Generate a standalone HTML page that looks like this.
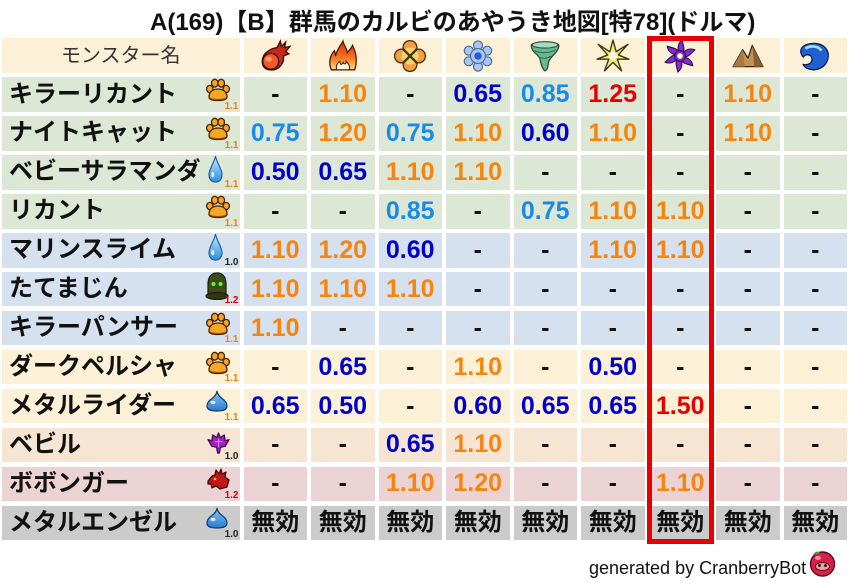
<!DOCTYPE html>
<html><head><meta charset="utf-8">
<style>
html,body{margin:0;padding:0}
body{width:849px;height:583px;background:#fff;position:relative;overflow:hidden;font-family:"Liberation Sans","Noto Sans CJK JP",sans-serif}
#title{position:absolute;left:150px;top:11px;font-size:24px;line-height:24px;font-weight:bold;color:#111;white-space:nowrap}
#t{position:absolute;left:2px;top:38.35px;display:grid;grid-template-columns:237.5px repeat(9,63.5px);grid-template-rows:repeat(13,34.5px);column-gap:4px;row-gap:4.45px}
#t>div{position:relative;display:flex;align-items:center;justify-content:center;line-height:1}
.v{font-weight:bold;font-size:25px;color:#111}
.w{font-weight:bold;font-size:24px;color:#111}
.n{justify-content:flex-start!important;padding-left:7px;font-weight:bold;font-size:24px;color:#111;white-space:nowrap}
.hn{font-size:20px;color:#333}
.h{background:#fcf0d6}.g{background:#dde7d5}.b{background:#d5e1ef}.y{background:#fcf0d6}.p{background:#f6e5d2}.k{background:#ecd3d3}.s{background:#cbcbcb}
.o{color:#f5850f}.lb{color:#1a8ae8}.db{color:#0000cc}.r{color:#e80000}
.ic{position:absolute}
.l{position:absolute;right:1px;bottom:0px;font-size:10px;font-weight:bold;line-height:10px}
.lo{color:#f08010}.lk{color:#222}.lr{color:#e00000}
.hi{width:34px;height:34px}
#box{position:absolute;left:646.5px;top:35.5px;width:67.5px;height:508px;border:5px solid #e80000;box-sizing:border-box}
#foot{position:absolute;left:589px;top:559px;font-size:18px;line-height:18px;color:#111;white-space:nowrap}
</style></head><body>
<svg width="0" height="0" style="position:absolute">
<defs>
<linearGradient id="gf" x1="0" y1="0" x2="0" y2="1"><stop offset="0" stop-color="#e02810"/><stop offset="0.6" stop-color="#f47a20"/><stop offset="1" stop-color="#fde080"/></linearGradient>
<linearGradient id="gd" x1="0" y1="0" x2="0" y2="1"><stop offset="0" stop-color="#c8ecff"/><stop offset="1" stop-color="#2e8ee0"/></linearGradient>
<linearGradient id="gs" x1="0" y1="0" x2="0" y2="1"><stop offset="0" stop-color="#8cc8f4"/><stop offset="1" stop-color="#2a7ad0"/></linearGradient>
<symbol id="h1" viewBox="0 0 32 32">
<path d="M4 21 C4 13 12 9 18 8 L21 2 L22 7 L26 3 L25 8 L30 7 L26 12 L29 14 L24 16 C25 24 18 30 12 29 C6 29 4 25 4 21Z" fill="#c8281c" stroke="#3a0a0a" stroke-width="1.3"/>
<circle cx="12" cy="21" r="7.5" fill="#f05a28" stroke="#3a0a0a" stroke-width="1.2"/>
<ellipse cx="10" cy="19" rx="3" ry="2.5" fill="#ff9a60"/>
</symbol>
<symbol id="h2" viewBox="0 0 32 32">
<path d="M5 29 C2 22 4 15 8 11 L9 16 C10 10 14 6 16 2 C17 7 20 9 20 13 C22 10 24 9 25 6 C28 12 30 20 27 29Z" fill="url(#gf)" stroke="#4a1a0a" stroke-width="1.2"/>
<path d="M10 29 C9 25 11 22 13 21 C13 24 15 25 16 22 C17 24 19 24 19 21 C21 23 23 26 22 29Z" fill="#fff8e0" stroke="#4a1a0a" stroke-width="1"/>
</symbol>
<symbol id="h3" viewBox="0 0 32 32">
<g fill="#f5a040" stroke="#4a2a0a" stroke-width="1.2">
<circle cx="16" cy="8" r="6.5"/><circle cx="16" cy="24" r="6.5"/><circle cx="8" cy="16" r="6.5"/><circle cx="24" cy="16" r="6.5"/>
</g>
<circle cx="16" cy="16" r="8" fill="#fbd070"/>
<path d="M9 9 L23 23 M23 9 L9 23" stroke="#3a3a0a" stroke-width="2.2"/>
</symbol>
<symbol id="h4" viewBox="0 0 32 32">
<g fill="#a8c8f0" stroke="#4a6a9a" stroke-width="1.1">
<circle cx="16" cy="6" r="4.2"/><circle cx="24.7" cy="11" r="4.2"/><circle cx="24.7" cy="21" r="4.2"/><circle cx="16" cy="26" r="4.2"/><circle cx="7.3" cy="21" r="4.2"/><circle cx="7.3" cy="11" r="4.2"/>
<circle cx="16" cy="16" r="7"/>
</g>
<circle cx="16" cy="16" r="3.5" fill="#2a5ad8"/>
</symbol>
<symbol id="h5" viewBox="0 0 32 32">
<path d="M3 6 C3 2 29 2 29 6 C29 12 22 16 20 20 C18 24 20 28 16 30 C13 28 12 22 11 18 C9 14 3 12 3 6Z" fill="#6ab890" stroke="#2a4a3a" stroke-width="1.2"/>
<ellipse cx="16" cy="5.5" rx="12" ry="3" fill="#a8dcc0" stroke="#2a4a3a" stroke-width="1"/>
<path d="M6 11 C12 14 22 13 26 10 M10 17 C14 19 19 18 22 16" stroke="#2a6a4a" stroke-width="1" fill="none"/>
</symbol>
<symbol id="h6" viewBox="0 0 32 32">
<path d="M16 1 L19 12 L30 5 L21 15 L31 19 L20 19 L24 30 L16 22 L8 30 L12 19 L1 19 L11 15 L2 5 L13 12Z" fill="#f0ec70" stroke="#3a3a10" stroke-width="1.3" stroke-linejoin="round"/>
<circle cx="16" cy="16" r="4" fill="#fffbe0"/>
</symbol>
<symbol id="h7" viewBox="0 0 32 32">
<g fill="#8a2ad0" stroke="#2a0a4a" stroke-width="1">
<path d="M16 13 C13 9 14 4 18 1 C19 6 21 10 18.5 14Z"/>
<path d="M16 13 C13 9 14 4 18 1 C19 6 21 10 18.5 14Z" transform="rotate(60 16 16)"/>
<path d="M16 13 C13 9 14 4 18 1 C19 6 21 10 18.5 14Z" transform="rotate(120 16 16)"/>
<path d="M16 13 C13 9 14 4 18 1 C19 6 21 10 18.5 14Z" transform="rotate(180 16 16)"/>
<path d="M16 13 C13 9 14 4 18 1 C19 6 21 10 18.5 14Z" transform="rotate(240 16 16)"/>
<path d="M16 13 C13 9 14 4 18 1 C19 6 21 10 18.5 14Z" transform="rotate(300 16 16)"/>
<circle cx="16" cy="16" r="5"/>
</g>
<circle cx="16" cy="16" r="2.6" fill="#fff"/>
</symbol>
<symbol id="h8" viewBox="0 0 32 32">
<path d="M2 26 L11 10 L16 18 L20 6 L30 26Z" fill="#c09258" stroke="#3a2a10" stroke-width="1.2" stroke-linejoin="round"/>
<path d="M20 6 L30 26 L22 26Z" fill="#8a6030"/>
<path d="M11 10 L13 26 L2 26Z" fill="#a87a40"/>
</symbol>
<symbol id="h9" viewBox="0 0 32 32">
<path d="M4 8 C8 3 22 2 27 10 C31 17 27 28 15 29 C10 29 6 27 5 24 C10 25 14 22 13 18 C12 14 7 14 5 17 C2 14 2 10 4 8Z" fill="#2060d0" stroke="#0a1a4a" stroke-width="1.2"/>
<path d="M7 9 C11 6 19 6 22 11" stroke="#a0e0ff" stroke-width="2.5" fill="none"/>
</symbol>
<symbol id="paw" viewBox="0 0 26 24">
<g fill="#f5a623" stroke="#4a2200" stroke-width="1.3">
<ellipse cx="4.8" cy="11" rx="3.2" ry="3.6"/>
<ellipse cx="9.8" cy="5.2" rx="3.3" ry="3.9"/>
<ellipse cx="16.2" cy="5.2" rx="3.3" ry="3.9"/>
<ellipse cx="21.2" cy="11" rx="3.2" ry="3.6"/>
<path d="M4 19 C4 13 9 11 13 11 C17 11 22 13 22 19 C22 22 17 22.5 13 22.5 C9 22.5 4 22 4 19Z"/>
</g>
<path d="M5 19.5 C8 21.5 18 21.5 21 19.5 L21 20.5 C18 22.5 8 22.5 5 20.5Z" fill="#a04a00"/>
</symbol>
<symbol id="drop" viewBox="0 0 16 30">
<path d="M8 1 C9 8 15 15 15 21 C15 26 12 29 8 29 C4 29 1 26 1 21 C1 15 7 8 8 1Z" fill="url(#gd)" stroke="#1a5a9a" stroke-width="1.2"/>
<ellipse cx="5" cy="21" rx="1.6" ry="3" fill="#fff" opacity="0.8"/>
</symbol>
<symbol id="slime" viewBox="0 0 22 22">
<path d="M11 1 C11.5 5 14 7 16 8.5 C20 11 21 13.5 21 16 C21 20 17 21 11 21 C5 21 1 20 1 16 C1 13.5 2 11 6 8.5 C8 7 10.5 5 11 1Z" fill="url(#gs)" stroke="#0e3a6a" stroke-width="1.2"/>
<ellipse cx="7" cy="12.5" rx="2.5" ry="1.6" fill="#e0f2ff"/>
</symbol>
<symbol id="helm" viewBox="0 0 24 28">
<path d="M3 24 L3 12 C3 4 7 1 12 1 C17 1 21 4 21 12 L21 24Z" fill="#3e4a18" stroke="#1a2008" stroke-width="1.2"/>
<ellipse cx="12" cy="24" rx="11" ry="3.5" fill="#2e3810" stroke="#1a2008" stroke-width="1.2"/>
<circle cx="8.5" cy="12" r="2" fill="#50ff30"/><circle cx="15.5" cy="12" r="2" fill="#50ff30"/>
</symbol>
<symbol id="devil" viewBox="0 0 24 24">
<path d="M12 2 L14 7 L18 4 L19 10 L23 9 L19 16 L14 17 L13 23 L11 23 L10 17 L5 16 L1 9 L5 10 L6 4 L10 7Z" fill="#a020c0" stroke="#3a0040" stroke-width="1.2" stroke-linejoin="round"/>
<path d="M12 8 L12 17 M8 11 L16 11" stroke="#e080f0" stroke-width="1.2"/>
</symbol>
<symbol id="dragon" viewBox="0 0 24 24">
<path d="M2 14 L6 9 L9 8 L10 3 L13 7 L15 2 L16 7 L20 5 L19 10 L23 13 L21 20 L14 22 L10 19 L6 21 L5 17 L2 17Z" fill="#c01818" stroke="#3a0000" stroke-width="1.2" stroke-linejoin="round"/>
<circle cx="9" cy="12" r="1.3" fill="#ffd000"/>
</symbol>
</defs>
</svg>

<div id="title">A(169)【B】群馬のカルビのあやうき地図[特78](ドルマ)</div>

<div id="t">
<!-- header -->
<div class="h hn">モンスター名</div>
<div class="h"><svg class="hi" width="34" height="34"><use href="#h1" width="34" height="34"/></svg></div>
<div class="h"><svg class="hi" width="34" height="34"><use href="#h2" width="34" height="34"/></svg></div>
<div class="h"><svg class="hi" width="34" height="34"><use href="#h3" width="34" height="34"/></svg></div>
<div class="h"><svg class="hi" width="34" height="34"><use href="#h4" width="34" height="34"/></svg></div>
<div class="h"><svg class="hi" width="34" height="34"><use href="#h5" width="34" height="34"/></svg></div>
<div class="h"><svg class="hi" width="34" height="34"><use href="#h6" width="34" height="34"/></svg></div>
<div class="h"><svg class="hi" width="34" height="34"><use href="#h7" width="34" height="34"/></svg></div>
<div class="h"><svg class="hi" width="34" height="34"><use href="#h8" width="34" height="34"/></svg></div>
<div class="h"><svg class="hi" width="34" height="34"><use href="#h9" width="34" height="34"/></svg></div>

<!-- row 1 -->
<div class="n g">キラーリカント<svg class="ic" style="left:203px;top:1px" width="26" height="24"><use href="#paw"/></svg><span class="l lo">1.1</span></div>
<div class="v g">-</div><div class="v g o">1.10</div><div class="v g">-</div><div class="v g db">0.65</div><div class="v g lb">0.85</div><div class="v g r">1.25</div><div class="v g">-</div><div class="v g o">1.10</div><div class="v g">-</div>

<!-- row 2 -->
<div class="n g">ナイトキャット<svg class="ic" style="left:203px;top:1px" width="26" height="24"><use href="#paw"/></svg><span class="l lo">1.1</span></div>
<div class="v g lb">0.75</div><div class="v g o">1.20</div><div class="v g lb">0.75</div><div class="v g o">1.10</div><div class="v g db">0.60</div><div class="v g o">1.10</div><div class="v g">-</div><div class="v g o">1.10</div><div class="v g">-</div>

<!-- row 3 -->
<div class="n g">ベビーサラマンダ<svg class="ic" style="left:206px;top:0px" width="15" height="28"><use href="#drop"/></svg><span class="l lo">1.1</span></div>
<div class="v g db">0.50</div><div class="v g db">0.65</div><div class="v g o">1.10</div><div class="v g o">1.10</div><div class="v g">-</div><div class="v g">-</div><div class="v g">-</div><div class="v g">-</div><div class="v g">-</div>

<!-- row 4 -->
<div class="n g">リカント<svg class="ic" style="left:203px;top:1px" width="26" height="24"><use href="#paw"/></svg><span class="l lo">1.1</span></div>
<div class="v g">-</div><div class="v g">-</div><div class="v g lb">0.85</div><div class="v g">-</div><div class="v g lb">0.75</div><div class="v g o">1.10</div><div class="v g o">1.10</div><div class="v g">-</div><div class="v g">-</div>

<!-- row 5 -->
<div class="n b">マリンスライム<svg class="ic" style="left:206px;top:0px" width="15" height="28"><use href="#drop"/></svg><span class="l lk">1.0</span></div>
<div class="v b o">1.10</div><div class="v b o">1.20</div><div class="v b db">0.60</div><div class="v b">-</div><div class="v b">-</div><div class="v b o">1.10</div><div class="v b o">1.10</div><div class="v b">-</div><div class="v b">-</div>

<!-- row 6 -->
<div class="n b">たてまじん<svg class="ic" style="left:203px;top:0px" width="24" height="28"><use href="#helm"/></svg><span class="l lr">1.2</span></div>
<div class="v b o">1.10</div><div class="v b o">1.10</div><div class="v b o">1.10</div><div class="v b">-</div><div class="v b">-</div><div class="v b">-</div><div class="v b">-</div><div class="v b">-</div><div class="v b">-</div>

<!-- row 7 -->
<div class="n b">キラーパンサー<svg class="ic" style="left:203px;top:1px" width="26" height="24"><use href="#paw"/></svg><span class="l lo">1.1</span></div>
<div class="v b o">1.10</div><div class="v b">-</div><div class="v b">-</div><div class="v b">-</div><div class="v b">-</div><div class="v b">-</div><div class="v b">-</div><div class="v b">-</div><div class="v b">-</div>

<!-- row 8 -->
<div class="n y">ダークペルシャ<svg class="ic" style="left:203px;top:1px" width="26" height="24"><use href="#paw"/></svg><span class="l lo">1.1</span></div>
<div class="v y">-</div><div class="v y db">0.65</div><div class="v y">-</div><div class="v y o">1.10</div><div class="v y">-</div><div class="v y db">0.50</div><div class="v y">-</div><div class="v y">-</div><div class="v y">-</div>

<!-- row 9 -->
<div class="n y">メタルライダー<svg class="ic" style="left:204px;top:1px" width="22" height="22"><use href="#slime"/></svg><span class="l lo">1.1</span></div>
<div class="v y db">0.65</div><div class="v y db">0.50</div><div class="v y">-</div><div class="v y db">0.60</div><div class="v y db">0.65</div><div class="v y db">0.65</div><div class="v y r">1.50</div><div class="v y">-</div><div class="v y">-</div>

<!-- row 10 -->
<div class="n p">ベビル<svg class="ic" style="left:205px;top:3px" width="23" height="23"><use href="#devil"/></svg><span class="l lk">1.0</span></div>
<div class="v p">-</div><div class="v p">-</div><div class="v p db">0.65</div><div class="v p o">1.10</div><div class="v p">-</div><div class="v p">-</div><div class="v p">-</div><div class="v p">-</div><div class="v p">-</div>

<!-- row 11 -->
<div class="n k">ボボンガー<svg class="ic" style="left:204px;top:0px" width="24" height="24"><use href="#dragon"/></svg><span class="l lr">1.2</span></div>
<div class="v k">-</div><div class="v k">-</div><div class="v k o">1.10</div><div class="v k o">1.20</div><div class="v k">-</div><div class="v k">-</div><div class="v k o">1.10</div><div class="v k">-</div><div class="v k">-</div>

<!-- row 12 -->
<div class="n s">メタルエンゼル<svg class="ic" style="left:204px;top:1px" width="22" height="22"><use href="#slime"/></svg><span class="l lk">1.0</span></div>
<div class="w s">無効</div><div class="w s">無効</div><div class="w s">無効</div><div class="w s">無効</div><div class="w s">無効</div><div class="w s">無効</div><div class="w s">無効</div><div class="w s">無効</div><div class="w s">無効</div>
</div>

<div id="box"></div>

<div id="foot">generated by CranberryBot</div>
<svg style="position:absolute;left:808px;top:549px" width="29" height="28" viewBox="0 0 29 28">
<circle cx="14.5" cy="15" r="12" fill="#d8204a" stroke="#5a0a1a" stroke-width="1.4"/>
<path d="M5 6 C7 2 11 2 12 4 C9 5 7 6 5 6Z" fill="#40a040"/>
<ellipse cx="14.5" cy="17.5" rx="7" ry="4" fill="#f0a0a0" stroke="#5a0a1a" stroke-width="1"/>
<circle cx="11.5" cy="16.5" r="1.5" fill="#222"/><circle cx="17.5" cy="16.5" r="1.5" fill="#222"/>
<ellipse cx="10" cy="9" rx="3" ry="2" fill="#ff8aa0"/>
</svg>
</body></html>
